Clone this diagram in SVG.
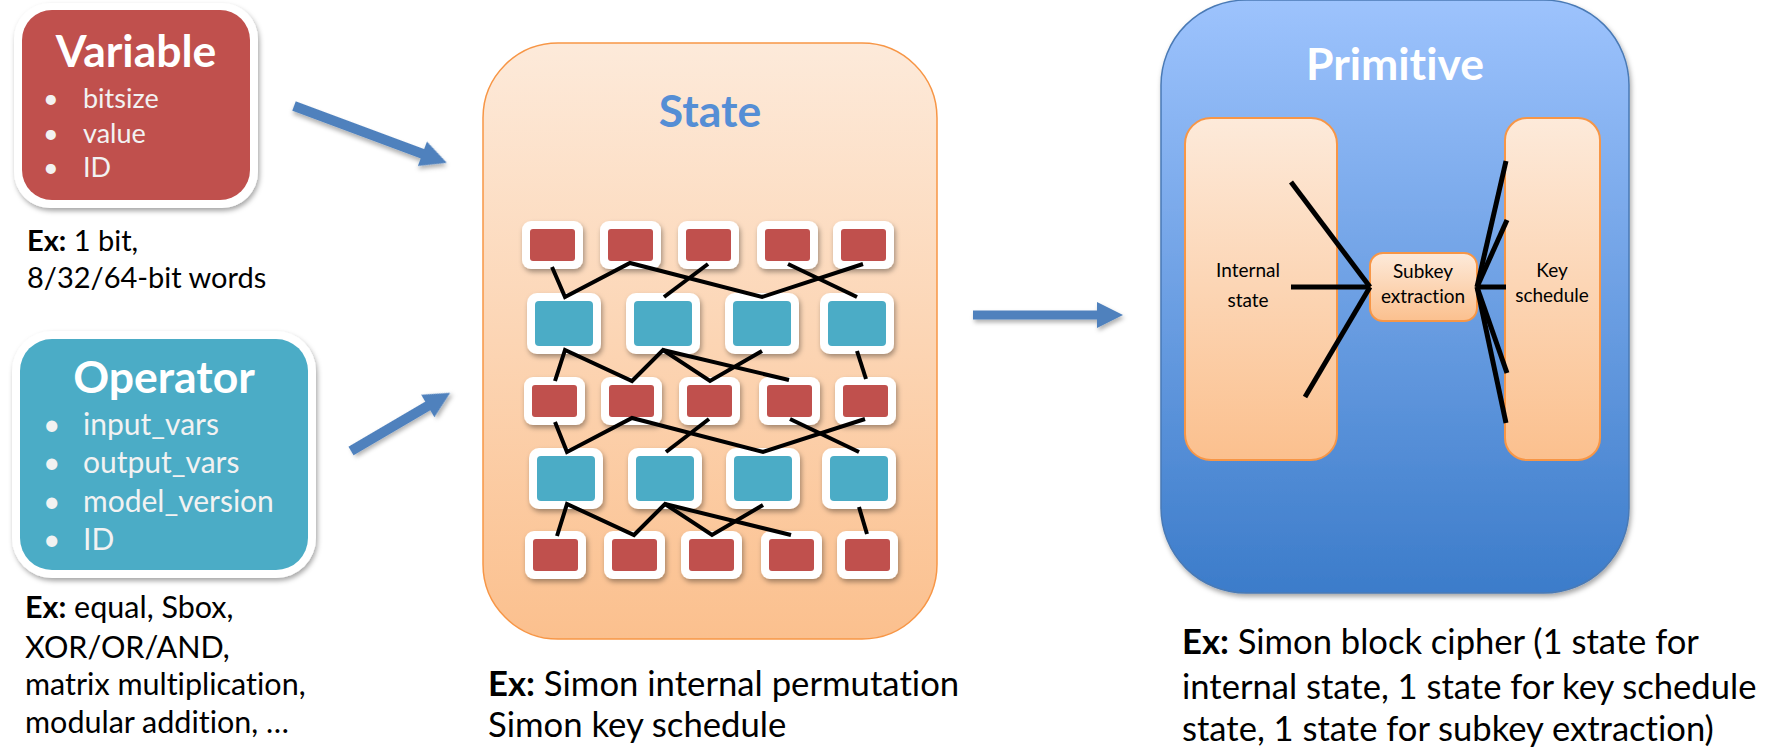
<svg xmlns="http://www.w3.org/2000/svg" width="1773" height="748" viewBox="0 0 1773 748">
  <defs>
    <style>
      text { font-family: Lato, "Liberation Sans", sans-serif; font-variant-ligatures: none; }
      .title { font-weight: bold; font-size: 44.5px; text-anchor: middle; }
      .white { fill: #FFFFFF; }
      .bul { fill: #F2F2F2; }
      .ex { fill: #000000; }
      .b { font-weight: bold; }
      .frame { fill: #FFFFFF; filter: url(#sh); }
      .red { fill: #C0504D; }
      .teal { fill: #4BACC6; }
      .wire { stroke: #000000; stroke-width: 4; fill: none; stroke-linejoin: miter; }
      .wire2 { stroke: #000000; stroke-width: 5; fill: none; }
      .arrow { fill: #4F81BD; filter: url(#ash); }
      .sub { fill: url(#peach); stroke: #F79646; stroke-width: 2; }
      .lbl { font-size: 19px; text-anchor: middle; fill: #000000; }
    </style>
    <filter id="sh" x="-30%" y="-30%" width="160%" height="170%">
      <feDropShadow dx="1.5" dy="3" stdDeviation="2.5" flood-color="#000000" flood-opacity="0.35"/>
    </filter>
    <filter id="ash" x="-20%" y="-40%" width="140%" height="190%">
      <feDropShadow dx="1.5" dy="3" stdDeviation="2" flood-color="#000000" flood-opacity="0.3"/>
    </filter>
    <linearGradient id="peach" x1="0" y1="0" x2="0" y2="1">
      <stop offset="0" stop-color="#FDEADA"/>
      <stop offset="1" stop-color="#FBC08E"/>
    </linearGradient>
    <linearGradient id="blue" x1="0" y1="0" x2="0" y2="1">
      <stop offset="0" stop-color="#9DC3FD"/>
      <stop offset="1" stop-color="#3C7CCA"/>
    </linearGradient>
  </defs>

  <!-- Variable -->
  <g id="variable">
    <rect class="frame" x="14" y="3" width="244" height="205" rx="36"/>
    <rect class="red" x="22" y="10" width="228" height="190" rx="30"/>
    <text class="title white" x="136" y="67">Variable</text>
    <g class="bul" font-size="27">
      <text x="43" y="108">•</text><text x="83" y="108">bitsize</text>
      <text x="43" y="143">•</text><text x="83" y="143">value</text>
      <text x="43" y="177">•</text><text x="83" y="177">ID</text>
    </g>
    <g class="ex" font-size="29">
      <text x="27" y="251"><tspan class="b">Ex:</tspan> 1 bit,</text>
      <text x="27" y="288">8/32/64-bit words</text>
    </g>
  </g>

  <!-- Operator -->
  <g id="operator">
    <rect class="frame" x="12" y="331" width="304" height="247" rx="40"/>
    <rect class="teal" x="20" y="339" width="288" height="231" rx="32"/>
    <text class="title white" x="164" y="393">Operator</text>
    <g class="bul" font-size="30">
      <text x="43" y="435">•</text><text x="83" y="435">input_vars</text>
      <text x="43" y="473">•</text><text x="83" y="473">output_vars</text>
      <text x="43" y="512">•</text><text x="83" y="512">model_version</text>
      <text x="43" y="550">•</text><text x="83" y="550">ID</text>
    </g>
    <g class="ex" font-size="30.5">
      <text x="25" y="618"><tspan class="b">Ex:</tspan> equal, Sbox,</text>
      <text x="25" y="658">XOR/OR/AND,</text>
      <text x="25" y="695">matrix multiplication,</text>
      <text x="25" y="733">modular addition, …</text>
    </g>
  </g>

  <!-- State -->
  <g id="state">
    <rect x="483" y="43" width="454" height="596" rx="75" fill="url(#peach)" stroke="#F79646" stroke-width="1.5"/>
    <text class="title" x="710" y="127" fill="#558ED5">State</text>

    <!-- row 1: variables -->
    <g id="state-row1">
      <rect class="frame" x="522" y="221" width="61" height="48" rx="9"/><rect class="red" x="530" y="229" width="45" height="32" rx="3"/>
      <rect class="frame" x="600" y="221" width="61" height="48" rx="9"/><rect class="red" x="608" y="229" width="45" height="32" rx="3"/>
      <rect class="frame" x="678" y="221" width="61" height="48" rx="9"/><rect class="red" x="686" y="229" width="45" height="32" rx="3"/>
      <rect class="frame" x="757" y="221" width="61" height="48" rx="9"/><rect class="red" x="765" y="229" width="45" height="32" rx="3"/>
      <rect class="frame" x="833" y="221" width="61" height="48" rx="9"/><rect class="red" x="841" y="229" width="45" height="32" rx="3"/>
    </g>
    <!-- row 2: operators -->
    <g id="state-row2">
      <rect class="frame" x="527" y="293" width="74" height="61" rx="10"/><rect class="teal" x="535" y="301" width="58" height="45" rx="4"/>
      <rect class="frame" x="626" y="293" width="74" height="61" rx="10"/><rect class="teal" x="634" y="301" width="58" height="45" rx="4"/>
      <rect class="frame" x="725" y="293" width="74" height="61" rx="10"/><rect class="teal" x="733" y="301" width="58" height="45" rx="4"/>
      <rect class="frame" x="820" y="293" width="74" height="61" rx="10"/><rect class="teal" x="828" y="301" width="58" height="45" rx="4"/>
    </g>
    <!-- row 3: variables -->
    <g id="state-row3">
      <rect class="frame" x="524" y="377" width="61" height="48" rx="9"/><rect class="red" x="532" y="385" width="45" height="32" rx="3"/>
      <rect class="frame" x="601" y="377" width="61" height="48" rx="9"/><rect class="red" x="609" y="385" width="45" height="32" rx="3"/>
      <rect class="frame" x="679" y="377" width="61" height="48" rx="9"/><rect class="red" x="687" y="385" width="45" height="32" rx="3"/>
      <rect class="frame" x="759" y="377" width="61" height="48" rx="9"/><rect class="red" x="767" y="385" width="45" height="32" rx="3"/>
      <rect class="frame" x="835" y="377" width="61" height="48" rx="9"/><rect class="red" x="843" y="385" width="45" height="32" rx="3"/>
    </g>
    <!-- row 4: operators -->
    <g id="state-row4">
      <rect class="frame" x="529" y="448" width="74" height="61" rx="10"/><rect class="teal" x="537" y="456" width="58" height="45" rx="4"/>
      <rect class="frame" x="628" y="448" width="74" height="61" rx="10"/><rect class="teal" x="636" y="456" width="58" height="45" rx="4"/>
      <rect class="frame" x="726" y="448" width="74" height="61" rx="10"/><rect class="teal" x="734" y="456" width="58" height="45" rx="4"/>
      <rect class="frame" x="822" y="448" width="74" height="61" rx="10"/><rect class="teal" x="830" y="456" width="58" height="45" rx="4"/>
    </g>
    <!-- row 5: variables -->
    <g id="state-row5">
      <rect class="frame" x="525" y="531" width="61" height="48" rx="9"/><rect class="red" x="533" y="539" width="45" height="32" rx="3"/>
      <rect class="frame" x="604" y="531" width="61" height="48" rx="9"/><rect class="red" x="612" y="539" width="45" height="32" rx="3"/>
      <rect class="frame" x="681" y="531" width="61" height="48" rx="9"/><rect class="red" x="689" y="539" width="45" height="32" rx="3"/>
      <rect class="frame" x="761" y="531" width="61" height="48" rx="9"/><rect class="red" x="769" y="539" width="45" height="32" rx="3"/>
      <rect class="frame" x="837" y="531" width="61" height="48" rx="9"/><rect class="red" x="845" y="539" width="45" height="32" rx="3"/>
    </g>

    <!-- wiring between rows -->
    <g id="state-wires">
      <polyline class="wire" points="552,267 565,297 630,263 762,297 863,264"/>
      <line class="wire" x1="708" y1="264" x2="664" y2="297"/>
      <line class="wire" x1="788" y1="264" x2="857" y2="297"/>

      <polyline class="wire" points="555,381 565,350 632,381 663,350 710,381 762,351"/>
      <line class="wire" x1="663" y1="350" x2="789" y2="380"/>
      <line class="wire" x1="857" y1="351" x2="866" y2="379"/>

      <polyline class="wire" points="555,422 567,452 632,418 763,452 865,419"/>
      <line class="wire" x1="709" y1="419" x2="666" y2="452"/>
      <line class="wire" x1="790" y1="419" x2="859" y2="452"/>

      <polyline class="wire" points="557,536 567,504 634,535 665,504 712,535 763,505"/>
      <line class="wire" x1="665" y1="504" x2="791" y2="535"/>
      <line class="wire" x1="859" y1="507" x2="867" y2="534"/>
    </g>

    <g class="ex" font-size="34.7">
      <text x="488" y="696"><tspan class="b">Ex:</tspan> Simon internal permutation</text>
      <text x="488" y="737">Simon key schedule</text>
    </g>
  </g>

  <!-- Primitive -->
  <g id="primitive">
    <rect x="1161" y="0" width="468" height="593" rx="85" fill="url(#blue)" stroke="#4A7AB5" stroke-width="1.5" filter="url(#sh)"/>
    <text class="title white" x="1395" y="80">Primitive</text>

    <g id="internal-state">
      <rect class="sub" x="1185" y="118" width="152" height="342" rx="26"/>
      <text class="lbl" x="1248" y="277" font-size="21.5">Internal</text>
      <text class="lbl" x="1248" y="307" font-size="21.5">state</text>
    </g>
    <g id="key-schedule">
      <rect class="sub" x="1505" y="118" width="95" height="342" rx="22"/>
      <text class="lbl" x="1552" y="277">Key</text>
      <text class="lbl" x="1552" y="302">schedule</text>
    </g>
    <g id="subkey-extraction">
      <rect class="sub" x="1370" y="253" width="107" height="68" rx="13"/>
      <text class="lbl" x="1423" y="278">Subkey</text>
      <text class="lbl" x="1423" y="303">extraction</text>
    </g>

    <g id="primitive-wires">
      <line class="wire2" x1="1291" y1="182" x2="1370" y2="287"/>
      <line class="wire2" x1="1291" y1="287" x2="1370" y2="287"/>
      <line class="wire2" x1="1370" y1="287" x2="1305" y2="397"/>
      <line class="wire2" x1="1477" y1="287" x2="1506" y2="161"/>
      <line class="wire2" x1="1477" y1="287" x2="1507" y2="220"/>
      <line class="wire2" x1="1477" y1="287" x2="1506" y2="287"/>
      <line class="wire2" x1="1477" y1="287" x2="1507" y2="373"/>
      <line class="wire2" x1="1477" y1="287" x2="1506" y2="423"/>
    </g>

    <g class="ex" font-size="34.6">
      <text x="1182" y="654"><tspan class="b">Ex:</tspan> Simon block cipher (1 state for</text>
      <text x="1182" y="699">internal state, 1 state for key schedule</text>
      <text x="1182" y="741">state, 1 state for subkey extraction)</text>
    </g>
  </g>

  <!-- connectors -->
  <g id="connectors">
    <path class="arrow" transform="translate(294,106) rotate(20.4)" d="M0,-5 H137 V-13 L163,0 L137,13 V5 H0 Z"/>
    <path class="arrow" transform="translate(351,451) rotate(-30.4)" d="M0,-5 H89 V-13 L115,0 L89,13 V5 H0 Z"/>
    <path class="arrow" transform="translate(973,315)" d="M0,-4.5 H124 V-13 L150,0 L124,13 V4.5 H0 Z"/>
  </g>
</svg>
